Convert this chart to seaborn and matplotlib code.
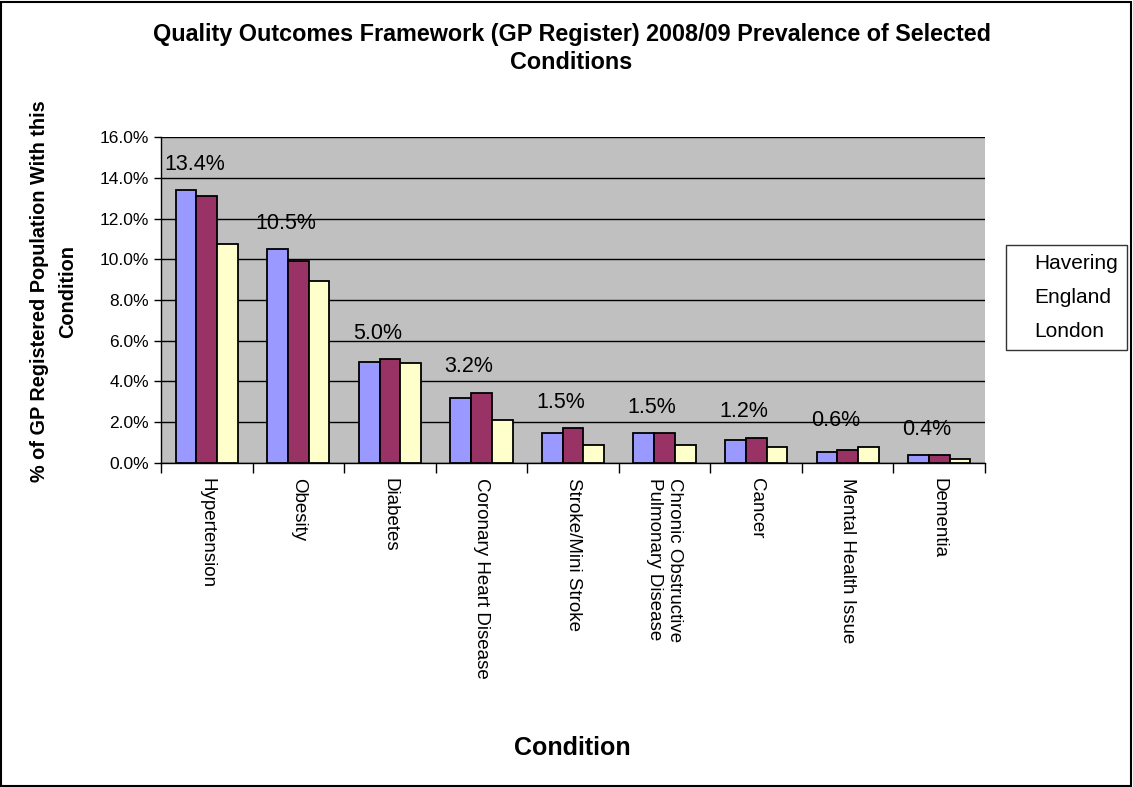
import seaborn as sns
import matplotlib
matplotlib.use('Agg')
import matplotlib.pyplot as plt
import pandas as pd
from matplotlib.patches import Patch, Rectangle
from matplotlib.ticker import FuncFormatter, FixedLocator

# data (% of GP registered population)
conditions = ['Hypertension', 'Obesity', 'Diabetes', 'Coronary Heart Disease',
              'Stroke/Mini Stroke', 'Chronic Obstructive\nPulmonary Disease',
              'Cancer', 'Mental Health Issue', 'Dementia']
havering = [13.4, 10.5, 4.95, 3.2, 1.45, 1.45, 1.15, 0.55, 0.4]
england = [13.1, 9.9, 5.1, 3.45, 1.7, 1.45, 1.25, 0.65, 0.4]
london = [10.75, 8.95, 4.9, 2.1, 0.9, 0.9, 0.8, 0.8, 0.2]
labels = ['13.4%', '10.5%', '5.0%', '3.2%', '1.5%', '1.5%', '1.2%', '0.6%', '0.4%']
areas = ['Havering', 'England', 'London']
colors = {'Havering': '#9999FF', 'England': '#993366', 'London': '#FFFFCC'}

df = pd.DataFrame({
    'Condition': conditions * 3,
    'Value': havering + england + london,
    'Area': ['Havering'] * 9 + ['England'] * 9 + ['London'] * 9,
})

sns.set_style('white')
plt.rcParams['font.family'] = ['Liberation Sans', 'DejaVu Sans']
plt.rcParams['text.color'] = 'black'
plt.rcParams['xtick.color'] = 'black'
plt.rcParams['ytick.color'] = 'black'
plt.rcParams['axes.labelcolor'] = 'black'

fig = plt.figure(figsize=(11.33, 7.87), dpi=100)
ax = fig.add_axes([0.1421, 0.4117, 0.7273, 0.4142])
ax.set_facecolor('#C0C0C0')

sns.barplot(data=df, x='Condition', y='Value', hue='Area', order=conditions,
            hue_order=areas, palette=colors, saturation=1, edgecolor='black',
            linewidth=1.3, width=0.68, gap=0, ax=ax, legend=False, zorder=3)

ax.set_ylim(0, 16)
ax.set_xlim(-0.5, len(conditions) - 0.5)
ax.set_yticks(range(0, 17, 2))
ax.yaxis.set_major_formatter(FuncFormatter(lambda v, p: f'{v:.1f}%'))
ax.grid(axis='y', color='black', linewidth=1, zorder=0)
ax.set_axisbelow(True)
for s in ['top', 'right']:
    ax.spines[s].set_visible(False)
for s in ['left', 'bottom']:
    ax.spines[s].set_color('black')
    ax.spines[s].set_linewidth(1)

ax.tick_params(axis='y', left=True, length=5, width=1, labelsize=12.5, colors='black')
ax.tick_params(axis='x', which='major', length=0, pad=11, labelsize=13.5, colors='black')
ax.xaxis.set_minor_locator(FixedLocator([i + 0.5 for i in range(-1, len(conditions))]))
ax.tick_params(axis='x', which='minor', bottom=True, length=7, width=1, color='black')
plt.setp(ax.get_xticklabels(), rotation=-90, ha='center', va='top',
         rotation_mode='default', multialignment='left')

# data labels above the Havering bar
bw = 0.68 / 3
for i, lab in enumerate(labels):
    top = max(havering[i], england[i], london[i])
    ax.text(i - bw * 0.6, top + 0.75, lab, ha='center', va='bottom', fontsize=15.5,
            color='black', zorder=4)

ax.set_xlabel('')
ax.set_ylabel('')
fig.text(0.505, 0.0496, 'Condition', ha='center', va='center', fontsize=18, fontweight='bold')
fig.text(0.047, 0.63, '% of GP Registered Population With this\nCondition', rotation=90,
         ha='center', va='center', fontsize=14.3, fontweight='bold', linespacing=1.6)

fig.text(0.5045, 0.938, 'Quality Outcomes Framework (GP Register) 2008/09 Prevalence of Selected\nConditions',
         ha='center', va='center', fontsize=16.8, fontweight='bold', linespacing=1.3)

handles = [Patch(facecolor='none', edgecolor='none') for _ in areas]
leg = ax.legend(handles, areas, loc='center', bbox_to_anchor=(0.9413, 0.622),
                bbox_transform=fig.transFigure, fontsize=15, frameon=True,
                fancybox=False, edgecolor='black', handlelength=0.6,
                handletextpad=0.3, labelspacing=0.7, borderpad=0.45)
leg.get_frame().set_linewidth(1)
for t in leg.get_texts():
    t.set_color('black')

fig.patches.append(Rectangle((0.001, 0.001), 0.997, 0.997, transform=fig.transFigure,
                             fill=False, edgecolor='black', linewidth=1.5))

fig.savefig('out.png', dpi=100)
